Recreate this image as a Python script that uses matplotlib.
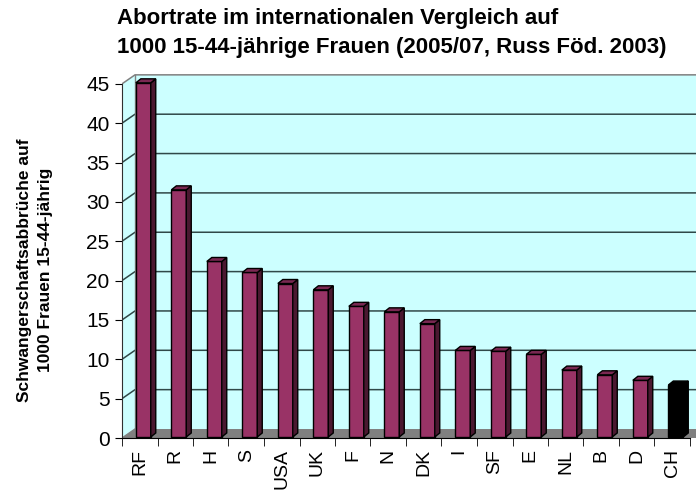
import matplotlib.pyplot as plt
from matplotlib.patches import Polygon, Rectangle
import numpy as np

laender = ["RF", "R", "H", "S", "USA", "UK", "F", "N", "DK", "I", "SF", "E", "NL", "B", "D", "CH"]
werte = [45.0, 31.4, 22.3, 20.9, 19.5, 18.7, 16.6, 15.9, 14.4, 11.0, 10.9, 10.5, 8.5, 7.9, 7.2, 6.6]
farben = ["#993366"] * 15 + ["#000000"]
seiten = ["#4a1830"] * 15 + ["#000000"]
oben = ["#7a2852"] * 15 + ["#000000"]

plt.rcParams['font.family'] = ['Liberation Sans', 'DejaVu Sans']

fig = plt.figure(figsize=(6.96, 4.90), dpi=100)
ax = fig.add_axes([122/696, 52/490, 574/696, 363.6/490])
ax.set_xlim(0, 574/35.5)
ax.set_ylim(0, 363.6/7.87)

n = len(laender)
DX, DY = 13/35.5, 9/7.87      # Wandtiefe
dx, dy = 5/35.5, 4/7.87       # Saeulentiefe
xmax = 20

# Waende und Boden
ax.add_patch(Rectangle((DX, DY), xmax, 45, facecolor="#ccffff", edgecolor="none", zorder=0))
ax.add_patch(Polygon([(0, 0), (DX, DY), (DX, 45+DY), (0, 45)], closed=True,
                     facecolor="#ccffff", edgecolor="none", zorder=0))
ax.add_patch(Polygon([(0, 0), (xmax, 0), (xmax+DX, DY), (DX, DY)], closed=True,
                     facecolor="#808080", edgecolor="none", zorder=1))
for v in range(5, 50, 5):
    c = "#808080" if v == 45 else "#304848"
    ax.plot([0, DX, xmax], [v, v+DY, v+DY], color=c, lw=1.1, zorder=1)
ax.plot([DX, DX], [DY, 45+DY], color="#808080", lw=1, zorder=1)
ax.plot([0, DX], [0, DY], color="#808080", lw=1, zorder=1)

# Saeulen
w = 0.42
b = 0.13
for i, v in enumerate(werte):
    x0 = i + 0.39
    ax.bar(x0, v, width=w, bottom=b, align='edge', color=farben[i],
           edgecolor="black", linewidth=1, zorder=3)
    ax.add_patch(Polygon([(x0+w, b), (x0+w+dx, b+dy), (x0+w+dx, b+v+dy), (x0+w, b+v)],
                         closed=True, facecolor=seiten[i], edgecolor="black", lw=1, zorder=3))
    ax.add_patch(Polygon([(x0, b+v), (x0+dx, b+v+dy), (x0+w+dx, b+v+dy), (x0+w, b+v)],
                         closed=True, facecolor=oben[i], edgecolor="black", lw=1, zorder=3))

for s in ["top", "right"]:
    ax.spines[s].set_visible(False)
ax.spines["left"].set_bounds(0, 45)
ax.spines["bottom"].set_bounds(0, n)
ax.spines["left"].set_color("#303030")

ax.set_yticks(range(0, 50, 5))
ax.tick_params(axis="y", length=5, pad=4, labelsize=15, direction="out")
ax.set_xticks(np.arange(n) + 0.5)
ax.set_xticklabels(laender, rotation=90)
ax.set_xticks(np.arange(n + 1), minor=True)
ax.tick_params(axis="x", which="major", length=0, pad=8, labelsize=14)
ax.tick_params(axis="x", which="minor", length=6, direction="out")

fig.text(117/696, 1-8/490, "Abortrate im internationalen Vergleich auf\n1000 15-44-jährige Frauen (2005/07, Russ Föd. 2003)",
         fontsize=16, fontweight="bold", ha="left", va="top", linespacing=1.5)
fig.text(35/696, 1-270/490, "Schwangerschaftsabbrüche auf\n1000 Frauen 15-44-jährig",
         fontsize=12.5, fontweight="bold",
         rotation=90, ha="center", va="center", multialignment="center", linespacing=1.45)

plt.savefig("out.png", dpi=100)
